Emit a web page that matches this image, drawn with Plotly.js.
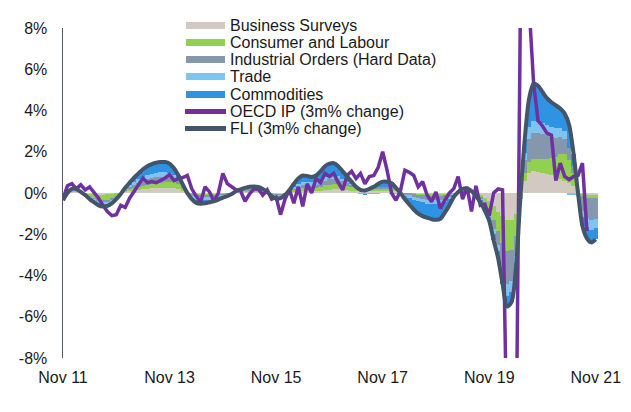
<!DOCTYPE html>
<html><head><meta charset="utf-8">
<script src="https://cdn.plot.ly/plotly-3.0.1.min.js"></script>
<style>html,body{margin:0;padding:0;background:#fff;} #chart{width:631px;height:412px;}</style>
</head><body><div id="chart"></div>
<script>
// Monthly data, Nov 2011 (index 0) to Nov 2021 (index 120), % values
const tickMonths = [0, 24, 48, 72, 96, 120];
const tickLabels = ['Nov 11', 'Nov 13', 'Nov 15', 'Nov 17', 'Nov 19', 'Nov 21'];
const yTickVals = [8, 6, 4, 2, 0, -2, -4, -6, -8];
const yTickText = ['8%', '6%', '4%', '2%', '0%', '-2%', '-4%', '-6%', '-8%'];

const seriesNames = ['Business Surveys', 'Consumer and Labour', 'Industrial Orders (Hard Data)', 'Trade', 'Commodities', 'OECD IP (3m% change)', 'FLI (3m% change)'];

const businessSurveys = [-0.05,0.0,0.05,0.05,0.02,-0.02,-0.05,-0.07,-0.08,-0.08,-0.07,-0.05,-0.02,0.0,0.05,0.1,0.12,0.15,0.18,0.2,0.22,0.24,0.25,0.25,0.25,0.22,0.18,0.1,0.03,-0.02,-0.05,-0.05,-0.05,-0.04,-0.04,-0.03,-0.02,-0.01,0.0,0.02,0.04,0.05,0.06,0.06,0.06,0.04,0.01,-0.02,-0.03,-0.03,-0.01,0.03,0.06,0.08,0.1,0.1,0.1,0.1,0.12,0.15,0.16,0.17,0.17,0.15,0.13,0.12,0.1,0.08,0.08,0.08,0.08,0.09,0.1,0.1,0.1,0.08,0.04,0.01,0.0,-0.02,-0.03,-0.04,-0.05,-0.05,-0.05,-0.05,-0.04,-0.03,-0.01,0.01,0.03,0.03,0.02,-0.03,-0.1,-0.25,-0.4,-0.65,-0.9,-1.1,-1.3,-1.3,-1.0,-0.05,0.6,0.95,1.05,1.0,0.95,0.9,0.85,0.8,0.7,0.6,0.5,0.35,0.1,-0.05,-0.08,-0.08,-0.08];
const consumerLabour = [-0.05,0.0,0.03,0.03,0.0,-0.03,-0.1,-0.15,-0.2,-0.25,-0.25,-0.2,-0.12,-0.03,0.05,0.1,0.13,0.15,0.17,0.2,0.22,0.24,0.25,0.27,0.3,0.3,0.25,0.15,0.02,-0.03,-0.05,-0.05,-0.05,-0.05,-0.04,-0.03,-0.02,-0.01,0.0,0.02,0.03,0.05,0.06,0.07,0.06,0.05,0.01,-0.02,-0.03,-0.03,-0.01,0.03,0.07,0.1,0.12,0.12,0.12,0.14,0.18,0.22,0.25,0.27,0.27,0.25,0.22,0.18,0.12,0.08,0.08,0.08,0.09,0.1,0.1,0.1,0.1,0.07,0.03,0.0,0.0,-0.03,-0.05,-0.07,-0.08,-0.09,-0.1,-0.1,-0.08,-0.05,-0.02,0.01,0.03,0.03,0.01,-0.03,-0.08,-0.2,-0.35,-0.65,-0.95,-1.3,-1.5,-1.45,-1.1,-0.2,0.35,0.55,0.6,0.65,0.7,0.75,0.85,0.95,1.2,1.3,1.1,0.6,0.05,-0.1,-0.15,-0.15,-0.15];
const industrialOrders = [-0.05,0.0,0.04,0.04,0.01,-0.02,-0.05,-0.08,-0.1,-0.1,-0.1,-0.08,-0.05,0.0,0.05,0.1,0.15,0.2,0.25,0.28,0.3,0.3,0.3,0.28,0.25,0.2,0.13,0.05,-0.02,-0.08,-0.1,-0.1,-0.1,-0.09,-0.08,-0.06,-0.04,-0.03,-0.01,0.02,0.04,0.05,0.06,0.06,0.06,0.04,0.01,-0.03,-0.05,-0.05,-0.02,0.03,0.08,0.12,0.15,0.15,0.14,0.15,0.18,0.22,0.25,0.25,0.22,0.17,0.12,0.08,0.05,0.04,0.05,0.06,0.07,0.09,0.1,0.1,0.08,0.04,-0.02,-0.08,-0.12,-0.15,-0.17,-0.18,-0.2,-0.2,-0.2,-0.2,-0.15,-0.1,-0.04,0.01,0.04,0.04,0.02,-0.03,-0.1,-0.2,-0.25,-0.45,-0.65,-1.1,-1.6,-1.5,-0.95,0.0,0.65,1.1,1.25,1.25,1.2,1.15,1.0,0.9,0.8,0.7,0.6,0.35,-0.05,-0.7,-1.0,-1.1,-1.05];
const trade = [-0.12,-0.03,0.04,0.04,0.01,-0.02,-0.05,-0.08,-0.12,-0.13,-0.12,-0.1,-0.06,-0.02,0.05,0.1,0.15,0.2,0.2,0.2,0.2,0.2,0.2,0.2,0.17,0.13,0.09,0.05,-0.03,-0.1,-0.15,-0.17,-0.15,-0.14,-0.12,-0.1,-0.07,-0.05,-0.02,0.02,0.03,0.05,0.06,0.06,0.06,0.03,0.01,-0.05,-0.1,-0.09,-0.04,0.02,0.09,0.15,0.18,0.17,0.16,0.16,0.17,0.18,0.18,0.18,0.15,0.12,0.08,0.05,0.0,-0.03,-0.06,-0.05,-0.04,-0.03,-0.02,-0.02,-0.03,-0.04,-0.05,-0.08,-0.1,-0.12,-0.15,-0.17,-0.18,-0.2,-0.2,-0.2,-0.15,-0.1,-0.04,0.01,0.05,0.06,0.03,-0.03,-0.07,-0.1,-0.15,-0.25,-0.3,-0.45,-0.6,-0.55,-0.35,-0.05,0.35,0.6,0.6,0.55,0.55,0.5,0.5,0.5,0.45,0.4,-0.08,-0.1,-0.05,-0.3,-0.4,-0.45,-0.42];
const commodities = [-0.08,0.03,0.04,0.04,0.01,-0.01,-0.05,-0.07,-0.1,-0.1,-0.08,-0.07,-0.05,0.0,0.05,0.1,0.2,0.25,0.35,0.42,0.46,0.49,0.5,0.5,0.45,0.35,0.2,0.05,0.0,-0.07,-0.13,-0.15,-0.15,-0.13,-0.12,-0.1,-0.07,-0.05,-0.02,0.02,0.04,0.05,0.06,0.07,0.06,0.04,0.01,-0.03,-0.06,-0.05,-0.02,0.04,0.15,0.25,0.3,0.28,0.26,0.3,0.4,0.53,0.58,0.58,0.49,0.36,0.25,0.12,0.03,-0.02,-0.03,0.03,0.1,0.2,0.27,0.27,0.23,0.1,0.0,-0.15,-0.33,-0.48,-0.6,-0.66,-0.69,-0.73,-0.75,-0.7,-0.53,-0.32,-0.09,0.01,0.05,0.06,0.02,-0.03,-0.1,-0.1,-0.2,-0.3,-0.35,-0.45,-0.5,-0.5,-0.3,0.0,0.65,1.4,1.8,1.75,1.5,1.3,1.2,1.1,0.95,0.85,1.1,0.6,-0.05,-0.45,-0.57,-0.62,-0.55];
const oecdIP = [-0.3,0.35,0.45,0.2,0.4,0.15,0.3,0.05,-0.25,-0.6,-0.9,-1.1,-1.05,-0.6,-0.7,-0.25,0.05,0.4,0.72,0.5,0.55,0.5,0.6,0.72,0.9,0.6,0.7,0.75,0.85,0.2,-0.15,-0.45,0.3,0.05,-0.4,0.0,0.95,0.45,0.3,0.15,0.1,-0.4,-0.05,0.2,0.2,-0.1,0.15,-0.3,-0.2,-1.05,-0.3,0.15,-0.5,0.3,-0.65,0.45,0.0,0.7,0.5,0.95,0.8,0.95,0.5,0.15,0.85,1.05,0.7,0.95,0.45,0.8,0.85,1.25,2.0,1.1,0.0,-0.35,0.1,1.1,1.0,0.85,0.3,0.55,-0.1,-0.42,0.05,-0.75,-0.35,0.0,0.2,0.8,-0.3,0.3,-0.9,0.35,-0.6,-0.55,-1.1,0.0,0.2,0.15,-12,-18,-14,8.5,14,9,5.3,3.5,3.25,2.9,2.8,0.6,1.45,0.8,0.65,0.8,0.85,1.45,-1.85];
const fli = [-0.35,0.0,0.2,0.2,0.05,-0.1,-0.3,-0.45,-0.6,-0.66,-0.62,-0.5,-0.3,-0.05,0.25,0.5,0.75,0.95,1.15,1.3,1.4,1.47,1.5,1.5,1.42,1.2,0.85,0.4,0.0,-0.3,-0.48,-0.52,-0.5,-0.45,-0.4,-0.32,-0.22,-0.15,-0.05,0.1,0.18,0.25,0.3,0.32,0.3,0.2,0.05,-0.15,-0.27,-0.25,-0.1,0.15,0.45,0.7,0.85,0.82,0.78,0.85,1.05,1.3,1.42,1.45,1.3,1.05,0.8,0.55,0.3,0.15,0.12,0.2,0.3,0.45,0.55,0.55,0.48,0.25,0.0,-0.3,-0.55,-0.8,-1.0,-1.12,-1.2,-1.27,-1.3,-1.25,-0.95,-0.6,-0.2,0.05,0.2,0.22,0.1,-0.15,-0.45,-0.85,-1.35,-2.3,-3.15,-4.4,-5.5,-5.3,-3.7,-0.3,2.6,4.6,5.3,5.2,4.9,4.6,4.4,4.25,4.1,3.85,3.3,1.9,0.0,-1.6,-2.2,-2.4,-2.25];

const componentValues = [businessSurveys, consumerLabour, industrialOrders, trade, commodities];
const componentColors = ['#D2C9C2', '#92D050', '#8497AC', '#7FC4F0', '#2F93E4'];
const ipColor = '#7030A0';
const fliColor = '#44546A';

const idx = arr => arr.map((_, i) => i);

const traces = componentValues.map((vals, k) => ({
  type: 'bar', name: seriesNames[k], x: idx(vals), y: vals,
  marker: {color: componentColors[k], line: {width: 0}},
  showlegend: false, hoverinfo: 'skip'
}));
traces.push({
  type: 'scatter', mode: 'lines', name: seriesNames[5], x: idx(oecdIP), y: oecdIP,
  line: {color: ipColor, width: 3.5}, showlegend: false, hoverinfo: 'skip'
});
traces.push({
  type: 'scatter', mode: 'lines', name: seriesNames[6], x: idx(fli), y: fli,
  line: {color: fliColor, width: 4, shape: 'spline', smoothing: 0.8}, showlegend: false, hoverinfo: 'skip'
});

// Legend drawn as annotations (tight row spacing as in the original)
const legendRows = [25, 42.3, 59.6, 76.9, 94.2, 111.5, 128.8];
const legendColors = componentColors.concat([ipColor, fliColor]);
const plotTop = 28, plotLeft = 63;
const annotations = [];
seriesNames.forEach((name, k) => {
  const isLine = k >= 5;
  annotations.push({
    xref: 'paper', yref: 'paper', x: 0, y: 1, xanchor: 'left', yanchor: 'middle',
    xshift: (isLine ? 185 : 186) - plotLeft, yshift: plotTop - legendRows[k],
    text: ' ', showarrow: false, width: isLine ? 41 : 39, height: isLine ? 5 : 7,
    bgcolor: legendColors[k], borderpad: 0, borderwidth: 0, font: {size: 2}
  });
  annotations.push({
    xref: 'paper', yref: 'paper', x: 0, y: 1, xanchor: 'left', yanchor: 'middle',
    xshift: 229 - plotLeft, yshift: plotTop - legendRows[k],
    text: name, showarrow: false, borderpad: 0,
    font: {family: 'Liberation Sans, Arial, sans-serif', size: 16, color: '#1a1a1a'}
  });
});

const xRange = [0, 120.5];
const layout = {
  width: 631, height: 412,
  margin: {l: 63, r: 33, t: 28, b: 54, pad: 0},
  paper_bgcolor: '#ffffff', plot_bgcolor: '#ffffff',
  barmode: 'relative', bargap: 0,
  showlegend: false,
  font: {family: 'Liberation Sans, Arial, sans-serif', size: 16, color: '#1a1a1a'},
  xaxis: {
    range: xRange, showgrid: false, zeroline: false, showline: false, ticks: '',
    tickvals: tickMonths, ticktext: tickLabels, ticklabelstandoff: 8,
    tickfont: {size: 16, color: '#1a1a1a'}
  },
  xaxis2: {
    overlaying: 'x', anchor: 'free', position: 0.5, range: xRange,
    showgrid: false, zeroline: false, showline: true, linecolor: '#5b6068', linewidth: 1.5,
    ticks: 'outside', ticklen: 4, tickwidth: 1.5, tickcolor: '#5b6068',
    tickvals: tickMonths.slice(1), showticklabels: false, layer: 'above traces'
  },
  yaxis: {
    range: [-8, 8], showgrid: false, zeroline: false, showline: true,
    linecolor: '#4f5b66', linewidth: 1.5, ticks: '',
    tickvals: yTickVals, ticktext: yTickText, ticklabelstandoff: 11,
    tickfont: {size: 16, color: '#1a1a1a'}
  },
  annotations: annotations
};

Plotly.newPlot('chart', traces, layout, {displayModeBar: false, staticPlot: true});
</script>
</body></html>
